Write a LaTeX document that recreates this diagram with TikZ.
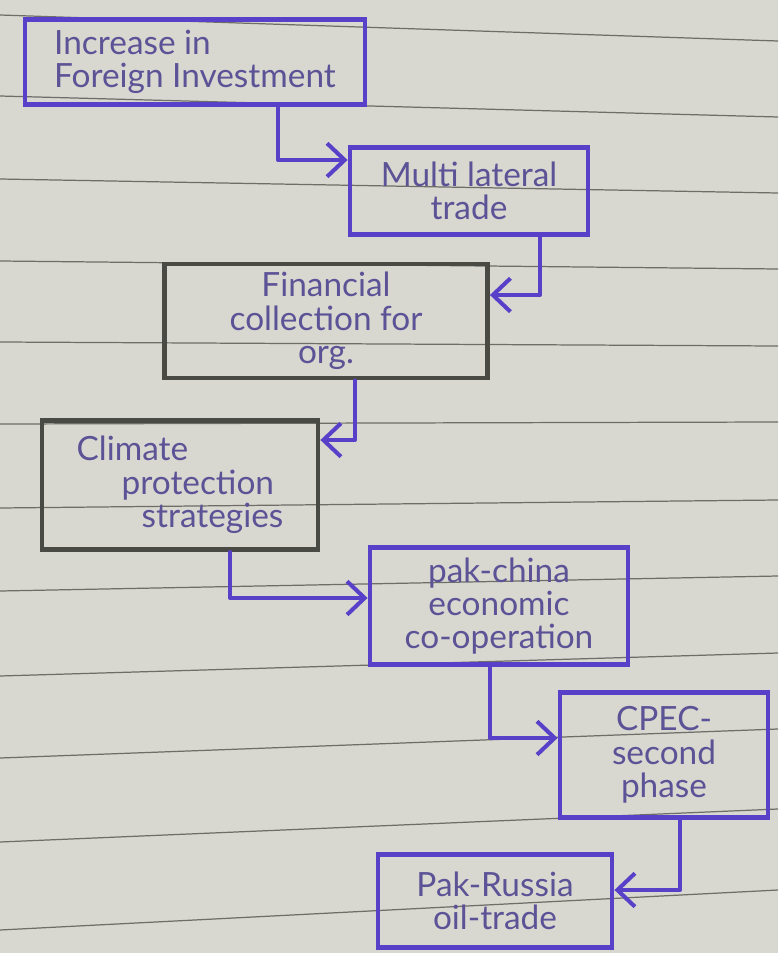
\documentclass[tikz,border=0pt]{standalone}
\usepackage{fontspec}
\setmainfont{Lato}
\usepackage{xcolor}
\usetikzlibrary{arrows.meta}

\definecolor{paper}{RGB}{216,216,209}
\definecolor{rule}{RGB}{110,110,104}
\definecolor{ink}{RGB}{88,64,200}
\definecolor{inktext}{RGB}{92,82,150}
\definecolor{pencil}{RGB}{74,74,68}

\begin{document}
\begin{tikzpicture}[x=0.02cm,y=-0.02cm,
    bluebox/.style={draw=ink,line width=2.8pt,inner sep=0pt,align=center,
        text=inktext,font=\fontsize{19}{19}\selectfont},
    greybox/.style={draw=pencil,line width=2.8pt,inner sep=0pt,align=center,
        text=inktext,font=\fontsize{19}{19}\selectfont},
    flow/.style={draw=ink,line width=2.3pt,line cap=round,line join=round,
        -{Straight Barb[length=10pt,width=19pt,line width=2.3pt]}},
    ruling/.style={draw=rule,line width=0.7pt}]
            \fill [paper] (0,0) rectangle (778,953);
            \useasboundingbox (0,0) rectangle (778,953);

            % ruled paper
            \draw [ruling] (0,15) -- (778,41);
            \draw [ruling] (0,96) -- (778,117);
            \draw [ruling] (0,179) -- (778,193);
            \draw [ruling] (0,261) -- (778,269);
            \draw [ruling] (0,342) -- (778,346);
            \draw [ruling] (0,424) -- (778,422);
            \draw [ruling] (0,508) -- (778,500);
            \draw [ruling] (0,591) -- (778,576);
            \draw [ruling] (0,676) -- (778,653);
            \draw [ruling] (0,758) -- (778,729);
            \draw [ruling] (0,842) -- (778,809);
            \draw [ruling] (0,930) -- (778,890);

            \node [bluebox,align=left,minimum width=6.8cm,minimum height=1.7cm] (invest) at (195,62) {Increase in\\Foreign Investment};
            \node [bluebox,minimum width=4.76cm,minimum height=1.74cm] (multi) at (469,191) {Multi lateral\\trade};
            \node [greybox,minimum width=6.46cm,minimum height=2.28cm] (finance) at (326,321) {Financial\\collection for\\org.};
            \node [greybox,align=left,minimum width=5.52cm,minimum height=2.58cm] (climate) at (180,485) {Climate\\\hspace*{0.9cm}protection\\\hspace*{1.3cm}strategies};
            \node [bluebox,minimum width=5.16cm,minimum height=2.34cm] (pakchina) at (499,606) {pak-china\\economic\\co-operation};
            \node [bluebox,minimum width=4.16cm,minimum height=2.5cm] (cpec) at (664,755) {CPEC-\\second\\phase};
            \node [bluebox,minimum width=4.68cm,minimum height=1.86cm] (russia) at (495,901) {Pak-Russia\\oil-trade};

            \draw [flow] (invest.south -| 278,0) |- (multi.west |- 0,160);
            \draw [flow] (multi.south -| 540,0) |- (finance.east |- 0,295);
            \draw [flow] (finance.south -| 355,0) |- (climate.east |- 0,440);
            \draw [flow] (climate.south -| 230,0) |- (pakchina.west |- 0,598);
            \draw [flow] (pakchina.south -| 490,0) |- (cpec.west |- 0,738);
            \draw [flow] (cpec.south -| 680,0) |- (russia.east |- 0,890);
        \end{tikzpicture}
\end{document}
